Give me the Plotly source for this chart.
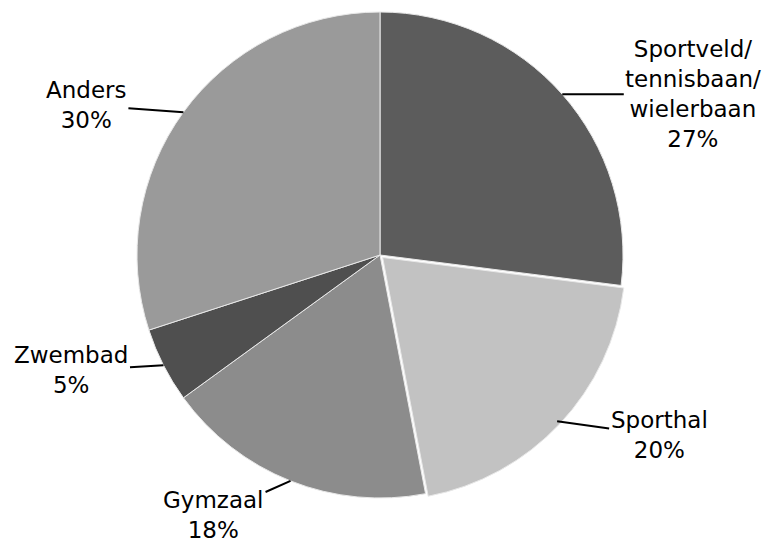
import numpy as np
import plotly.graph_objects as go

# data
labels = ['Sportveld/<br>tennisbaan/<br>wielerbaan', 'Sporthal', 'Gymzaal', 'Zwembad', 'Anders']
values = [27, 20, 18, 5, 30]
colors = ['#5c5c5c', '#c2c2c2', '#8c8c8c', '#4f4f4f', '#9a9a9a']
pulls = [0, 0.015, 0, 0, 0]

# page body has an 8px margin, so the figure is drawn 8px in from the corner
PAD = 8
W, H = 777 - PAD, 546 - PAD
cx, cy, r = 380 - PAD, 255 - PAD, 243      # pixel centre / radius of pie

# label offsets (pixels, from slice edge to text centre)
offsets = [(131, 0), (102, 14), (-77, 34), (-92, 5), (-97, -7)]

R = r * (1 + max(pulls))
fig = go.Figure()
fig.add_trace(go.Pie(
    labels=labels,
    values=values,
    sort=False,
    direction='clockwise',
    rotation=0,
    pull=pulls,
    marker=dict(colors=colors, line=dict(color='#e8e8e8', width=1)),
    textinfo='none',
    hoverinfo='label+percent',
    showlegend=False,
    domain=dict(x=[(cx - R) / W, (cx + R) / W],
                y=[max(0, (H - cy - R) / H), min(1, (H - cy + R) / H)]),
))

#### leader lines + labels
tot = sum(values)
cum = 0
for lab, v, (ox, oy) in zip(labels, values, offsets):
    mid = (cum + v / 2) / tot * 2 * np.pi
    cum += v
    px = cx + r * np.sin(mid)
    py = cy - r * np.cos(mid)
    fig.add_annotation(
        x=px / W, y=1 - py / H, xref='paper', yref='paper',
        text=f"{lab}<br>{round(v / tot * 100)}%",
        showarrow=True, arrowhead=0, arrowwidth=2, arrowcolor='black',
        ax=ox, ay=oy, standoff=0,
        font=dict(family='DejaVu Sans', size=23, color='black'),
        align='center',
    )

fig.update_layout(
    width=W, height=H,
    margin=dict(l=0, r=0, t=0, b=0),
    paper_bgcolor='white',
    plot_bgcolor='white',
)

fig.write_html("out.html")
